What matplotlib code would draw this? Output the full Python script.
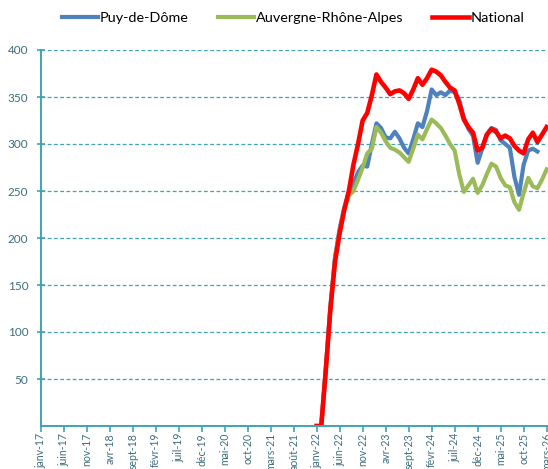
import numpy as np
import matplotlib
matplotlib.use("Agg")
import matplotlib.pyplot as plt

plt.rcParams['font.family'] = ['Lato', 'DejaVu Sans']

# month index 0 = janv-17
mois = ["janv", "févr", "mars", "avr", "mai", "juin",
        "juil", "août", "sept", "oct", "nov", "déc"]
start_month = 60  # janv-22

puy_de_dome = [0, 0, 62, 128, 180, 210, 232, 248, 258, 270,
               277, 276, 300, 322, 317, 307, 306, 313, 306, 296,
               290, 305, 322, 318, 335, 358, 352, 355, 352, 357,
               355, 347, 328, 316, 309, 280, 295, 310, 317, 315,
               304, 300, 296, 265, 246, 278, 293, 295, 292]
auvergne_rhone_alpes = [0, 0, 60, 126, 178, 207, 230, 245, 250, 262,
                        275, 290, 295, 318, 312, 303, 296, 294, 291, 286,
                        281, 295, 310, 305, 316, 326, 322, 317, 309, 300,
                        293, 268, 249, 256, 263, 248, 256, 268, 279, 276,
                        264, 256, 254, 238, 230, 248, 264, 255, 253, 262, 273]
national = [0, 0, 60, 125, 175, 205, 230, 250, 278, 300,
            325, 333, 352, 374, 366, 360, 353, 356, 357, 354,
            348, 358, 370, 363, 370, 379, 377, 373, 366, 360,
            357, 343, 326, 318, 312, 293, 296, 310, 316, 313,
            306, 309, 306, 298, 293, 290, 305, 312, 302, 310, 318]

series = [
    ("Puy-de-Dôme", puy_de_dome, "#4F81BD", 3.0),
    ("Auvergne-Rhône-Alpes", auvergne_rhone_alpes, "#9BBB59", 3.0),
    ("National", national, "#FF0000", 3.3),
]

axis_col = "#3FA3B5"
label_col = "#3D6E7A"

fig = plt.figure(figsize=(5.48, 4.69), dpi=100)
ax = fig.add_axes([40.7 / 548, (469 - 426) / 469, (548 - 40.7) / 548, 376 / 469])

for name, vals, col, lw in series:
    x = np.arange(start_month, start_month + len(vals))
    ax.plot(x, vals, color=col, lw=lw, label=name, solid_joinstyle="round")

ax.set_xlim(0, 110.3)
ax.set_ylim(0, 400)
ax.set_yticks(np.arange(50, 401, 50))
ax.yaxis.grid(True, color=axis_col, linestyle=(0, (3, 2)), linewidth=0.9)
ax.set_axisbelow(True)

ticks = np.arange(0, 111, 5)
ax.set_xticks(ticks)
ax.set_xticklabels([f"{mois[m % 12]}-{17 + m // 12}" for m in ticks],
                   rotation=90, fontsize=7.6, color=label_col)
ax.tick_params(axis="x", direction="out", length=4, color=axis_col, width=1.2, pad=1)
ax.tick_params(axis="y", direction="inout", length=6, color=axis_col, width=1.2,
               labelsize=8.5, labelcolor=label_col, pad=6)

for side in ["top", "right"]:
    ax.spines[side].set_visible(False)
for side in ["left", "bottom"]:
    ax.spines[side].set_color(axis_col)
    ax.spines[side].set_linewidth(1.4)

fig.legend(loc="center", bbox_to_anchor=(0.535, 0.962), ncol=3, frameon=False,
           fontsize=10.4, handlelength=2.5, handletextpad=0.15, columnspacing=2.0)

fig.savefig("out.png", dpi=100)
